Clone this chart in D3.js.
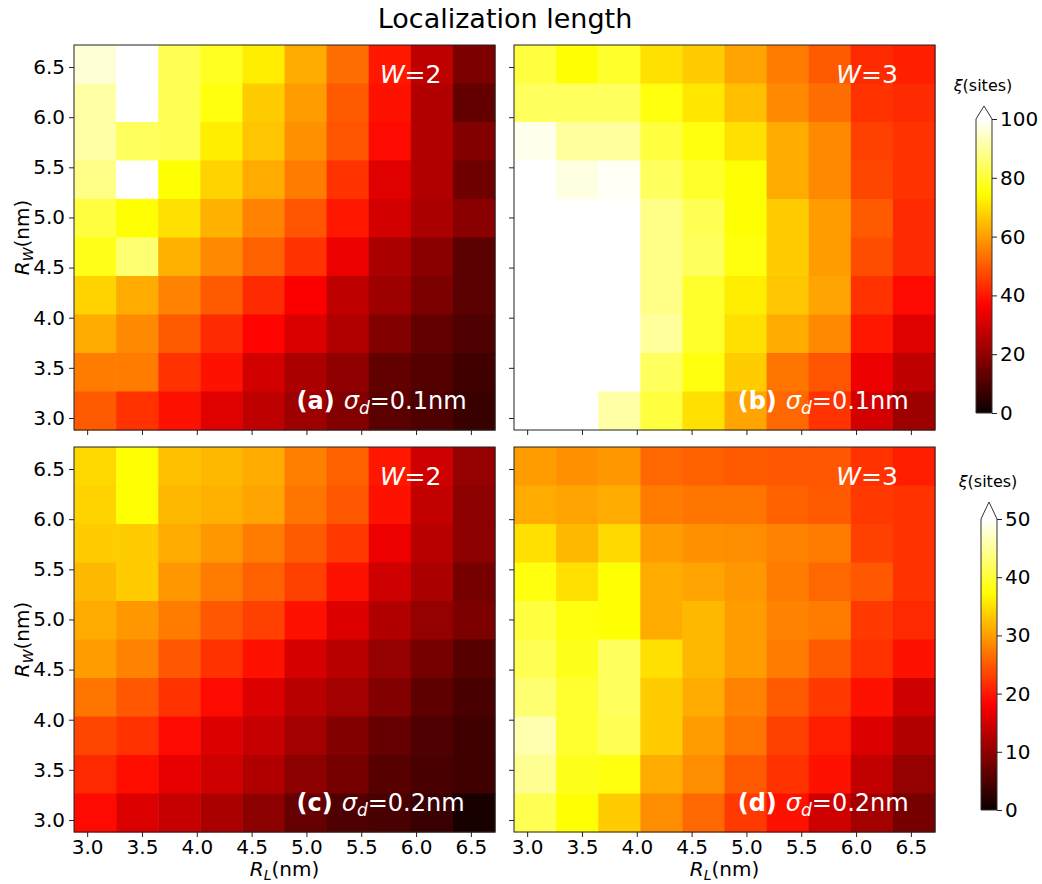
<!DOCTYPE html>
<html>
<head>
<meta charset="utf-8">
<script src="https://cdn.jsdelivr.net/npm/d3@7"></script>
<style>
  body { margin: 0; background: #fff; }
  text { font-family: "DejaVu Sans", sans-serif; }
</style>
</head>
<body>
<div id="chart"></div>
<script>
// grid centres (nm)
const RL = [3.072, 3.456, 3.84, 4.224, 4.608, 4.992, 5.376, 5.76, 6.144, 6.528];
const RW = [6.528, 6.144, 5.76, 5.376, 4.992, 4.608, 4.224, 3.84, 3.456, 3.072]; // top row first
const TICKS = [3.0, 3.5, 4.0, 4.5, 5.0, 5.5, 6.0, 6.5];

// xi (sites), rows top -> bottom, columns R_L low -> high
const xiA = [
  [96, 105, 83, 78, 72, 62, 53, 40, 27, 17],
  [91, 105, 83, 76, 67, 60, 50, 39, 25, 13],
  [91, 84, 83, 72, 66, 58, 49, 38, 25, 18],
  [88, 105, 75, 68, 62, 55, 44, 32, 25, 15],
  [81, 75, 70, 63, 56, 49, 40, 30, 24, 19],
  [77, 86, 63, 57, 51, 44, 34, 24, 19, 12],
  [68, 62, 56, 50, 43, 36, 27, 22, 17, 12],
  [62, 57, 50, 43, 37, 31, 25, 18, 13, 10],
  [55, 55, 44, 39, 30, 24, 20, 13, 11, 8],
  [50, 44, 39, 32, 27, 22, 18, 12, 10, 7]
];
const xiB = [
  [81, 75, 79, 70, 67, 61, 55, 50, 43, 41],
  [84, 84, 84, 76, 71, 65, 57, 53, 44, 43],
  [98, 90, 90, 81, 76, 70, 62, 57, 46, 44],
  [105, 97, 99, 84, 79, 75, 62, 57, 47, 44],
  [105, 105, 100, 88, 83, 75, 67, 60, 50, 43],
  [105, 105, 105, 88, 84, 76, 67, 60, 48, 43],
  [105, 105, 105, 88, 79, 72, 66, 61, 44, 38],
  [105, 105, 105, 90, 79, 70, 62, 57, 40, 32],
  [105, 105, 105, 84, 76, 67, 54, 49, 34, 27],
  [105, 105, 91, 81, 70, 61, 52, 44, 30, 22]
];
const xiC = [
  [34.4, 37.5, 32.6, 32, 31, 27.8, 25.5, 20, 14.6, 10.3],
  [34, 37.5, 32, 31.5, 30.5, 27, 24.8, 19.5, 13.7, 9.7],
  [33.5, 33.5, 31, 29.5, 27.5, 25, 22.5, 17, 13, 9.7],
  [32, 33.5, 29.5, 27.5, 25.5, 23, 19.5, 14.6, 12, 8],
  [31, 29.5, 27.5, 24.8, 23, 19.5, 15.7, 12.5, 10.3, 8.5],
  [30, 28, 24.8, 22, 19.5, 15.2, 13, 10.3, 8, 5.7],
  [27, 24.8, 22, 19, 15.7, 13, 11.4, 9, 6.3, 4.6],
  [23.5, 22, 19, 15.7, 14, 11.4, 9, 6.8, 5.1, 4],
  [21.3, 19.3, 16.4, 14.6, 12.5, 9.7, 8, 5.7, 4.6, 4],
  [19, 15.7, 14, 12, 9.7, 6.8, 5.1, 4.6, 3.4, 1.1]
];
const xiD = [
  [30, 29, 29.5, 26, 25.5, 25, 24.8, 24.8, 22, 20.4],
  [31, 30.5, 31, 27.5, 27, 27, 25.5, 25, 22.5, 22],
  [35, 32, 34.5, 30, 29, 28.8, 28, 27.5, 23, 22],
  [38, 35, 37.5, 31, 30.5, 29.5, 27.5, 26, 24.8, 22],
  [40.5, 38, 37.5, 31, 32, 30, 28, 27.5, 22.5, 21.3],
  [41.5, 38.7, 42, 35, 32, 30, 27.5, 25, 22, 19.5],
  [43, 39.7, 42, 33.5, 31, 28, 25, 22.5, 19.5, 14.6],
  [46, 39.7, 41.5, 33.5, 30, 27, 23, 20.4, 15.7, 12.5],
  [44.5, 38.7, 38, 31, 28.8, 25, 22, 19.5, 13.7, 10.3],
  [41.5, 37.5, 33.5, 28.8, 26, 22.5, 19.5, 14.6, 11.4, 8]
];
const CBAR_TOP = [0, 20, 40, 60, 80, 100];
const CBAR_BOTTOM = [0, 10, 20, 30, 40, 50];

const CELL = 0.384;
const EXTENT = [2.88, 6.72];
const W = 1042, H = 884;
const PW = 421, PH = 385;
const TICK_FONT = '20px';

// matplotlib "hot"
function hot(t) {
  t = Math.max(0, Math.min(1, t));
  const r = Math.min(1, 0.0416 + (1 - 0.0416) * t / 0.365079);
  const g = Math.max(0, Math.min(1, (t - 0.365079) / (0.746032 - 0.365079)));
  const b = Math.max(0, Math.min(1, (t - 0.746032) / (1 - 0.746032)));
  return d3.rgb(r * 255, g * 255, b * 255).formatHex();
}

const panels = [
  { id: 'a', data: xiA, vmax: 100, left: 74, top: 45, xlab: false, ylab: true, wv: '=2', wx: 5.67, sig: '0.1', sx: 4.91 },
  { id: 'b', data: xiB, vmax: 100, left: 514, top: 45, xlab: false, ylab: false, wv: '=3', wx: 5.82, sig: '0.1', sx: 4.92 },
  { id: 'c', data: xiC, vmax: 50, left: 74, top: 447, xlab: true, ylab: true, wv: '=2', wx: 5.67, sig: '0.2', sx: 4.91 },
  { id: 'd', data: xiD, vmax: 50, left: 514, top: 447, xlab: true, ylab: false, wv: '=3', wx: 5.82, sig: '0.2', sx: 4.92 }
];

const svg = d3.select('#chart').append('svg').attr('width', W).attr('height', H);

svg.append('text')
  .attr('x', 505).attr('y', 28)
  .attr('text-anchor', 'middle')
  .style('font-size', '27px')
  .text('Localization length');

panels.forEach((p) => {
  const x = d3.scaleLinear().domain(EXTENT).range([0, PW]);
  const y = d3.scaleLinear().domain(EXTENT).range([PH, 0]);
  const g = svg.append('g').attr('transform', `translate(${p.left},${p.top})`);

  const cells = [];
  p.data.forEach((row, i) => row.forEach((v, j) => cells.push({ rl: RL[j], rw: RW[i], v })));

  g.selectAll('rect.cell')
    .data(cells)
    .join('rect')
    .attr('class', 'cell')
    .attr('x', (d) => x(d.rl - CELL / 2))
    .attr('y', (d) => y(d.rw + CELL / 2))
    .attr('width', x(EXTENT[0] + CELL) - x(EXTENT[0]) + 0.5)
    .attr('height', y(EXTENT[0]) - y(EXTENT[0] + CELL) + 0.5)
    .attr('fill', (d) => hot(d.v / p.vmax));

  // axes
  const ax = g.append('g').attr('transform', `translate(0,${PH})`)
    .call(d3.axisBottom(x).tickValues(TICKS).tickSize(5).tickSizeOuter(0)
      .tickFormat(p.xlab ? d3.format('.1f') : ''));
  const ay = g.append('g')
    .call(d3.axisLeft(y).tickValues(TICKS).tickSize(5).tickSizeOuter(0)
      .tickFormat(p.ylab ? d3.format('.1f') : ''));
  [ax, ay].forEach((a) => {
    a.select('.domain').remove();
    a.selectAll('line').attr('stroke', '#222');
    a.selectAll('text').style('font-size', TICK_FONT).style('font-family', '"DejaVu Sans", sans-serif').attr('fill', '#000');
  });
  ay.selectAll('text').attr('dx', '-0.05em');

  g.append('rect').attr('width', PW).attr('height', PH)
    .attr('fill', 'none').attr('stroke', '#222').attr('stroke-width', 1);

  // annotations
  const wt = g.append('text').attr('x', x(p.wx)).attr('y', y(6.34))
    .attr('fill', '#fff').style('font-size', '25px');
  wt.append('tspan').style('font-style', 'italic').text('W');
  wt.append('tspan').text(p.wv);

  const st = g.append('text').attr('x', x(p.sx)).attr('y', y(3.09))
    .attr('fill', '#fff').style('font-size', '24px');
  st.append('tspan').style('font-weight', 'bold').text(`(${p.id})`);
  st.append('tspan').attr('dx', 9).style('font-style', 'italic').text('σ');
  st.append('tspan').attr('dy', 5).style('font-style', 'italic').style('font-size', '17px').text('d');
  st.append('tspan').attr('dy', -5).text('=' + p.sig + 'nm');

  if (p.ylab) {
    const yl = g.append('text')
      .attr('transform', `translate(-45,${PH / 2}) rotate(-90)`)
      .attr('text-anchor', 'middle')
      .style('font-size', '20px');
    yl.append('tspan').style('font-style', 'italic').text('R');
    yl.append('tspan').attr('dy', 4).style('font-style', 'italic').style('font-size', '14px').text('W');
    yl.append('tspan').attr('dy', -4).text('(nm)');
  }
  if (p.xlab) {
    const xl = g.append('text')
      .attr('x', PW / 2).attr('y', PH + 44)
      .attr('text-anchor', 'middle')
      .style('font-size', '20px');
    xl.append('tspan').style('font-style', 'italic').text('R');
    xl.append('tspan').attr('dy', 4).style('font-style', 'italic').style('font-size', '14px').text('L');
    xl.append('tspan').attr('dy', -4).text('(nm)');
  }
});

// colorbars
const defs = svg.append('defs');
const grad = defs.append('linearGradient').attr('id', 'hotgrad')
  .attr('x1', 0).attr('y1', 1).attr('x2', 0).attr('y2', 0);
d3.range(0, 1.0001, 0.02).forEach((t) => {
  grad.append('stop').attr('offset', t).attr('stop-color', hot(t));
});

const cbars = [
  { ticks: CBAR_TOP, left: 976, top: 119, bottom: 413, apex: 106, labelX: 983, labelY: 91 },
  { ticks: CBAR_BOTTOM, left: 981, top: 519, bottom: 810, apex: 502, labelX: 988, labelY: 487 }
];
cbars.forEach((c) => {
  const bw = 16;
  const cs = d3.scaleLinear().domain(d3.extent(c.ticks)).range([c.bottom, c.top]);
  const g = svg.append('g').attr('transform', `translate(${c.left},0)`);
  g.append('rect').attr('x', 0).attr('y', c.top).attr('width', bw).attr('height', c.bottom - c.top)
    .attr('fill', 'url(#hotgrad)');
  g.append('path')
    .attr('d', `M0,${c.top}L${bw / 2},${c.apex}L${bw},${c.top}Z`)
    .attr('fill', '#fff');
  g.append('path')
    .attr('d', `M0,${c.bottom}L0,${c.top}L${bw / 2},${c.apex}L${bw},${c.top}L${bw},${c.bottom}Z`)
    .attr('fill', 'none').attr('stroke', '#333').attr('stroke-width', 1);
  const a = g.append('g').attr('transform', `translate(${bw},0)`)
    .call(d3.axisRight(cs).tickValues(c.ticks).tickSize(5).tickSizeOuter(0).tickFormat(d3.format('d')));
  a.select('.domain').remove();
  a.selectAll('line').attr('stroke', '#222');
  a.selectAll('text').style('font-size', TICK_FONT).style('font-family', '"DejaVu Sans", sans-serif').attr('fill', '#000');
  const lt = svg.append('text').attr('x', c.labelX).attr('y', c.labelY)
    .attr('text-anchor', 'middle').style('font-size', '16px');
  lt.append('tspan').style('font-style', 'italic').text('ξ');
  lt.append('tspan').text('(sites)');
});
</script>
</body>
</html>
